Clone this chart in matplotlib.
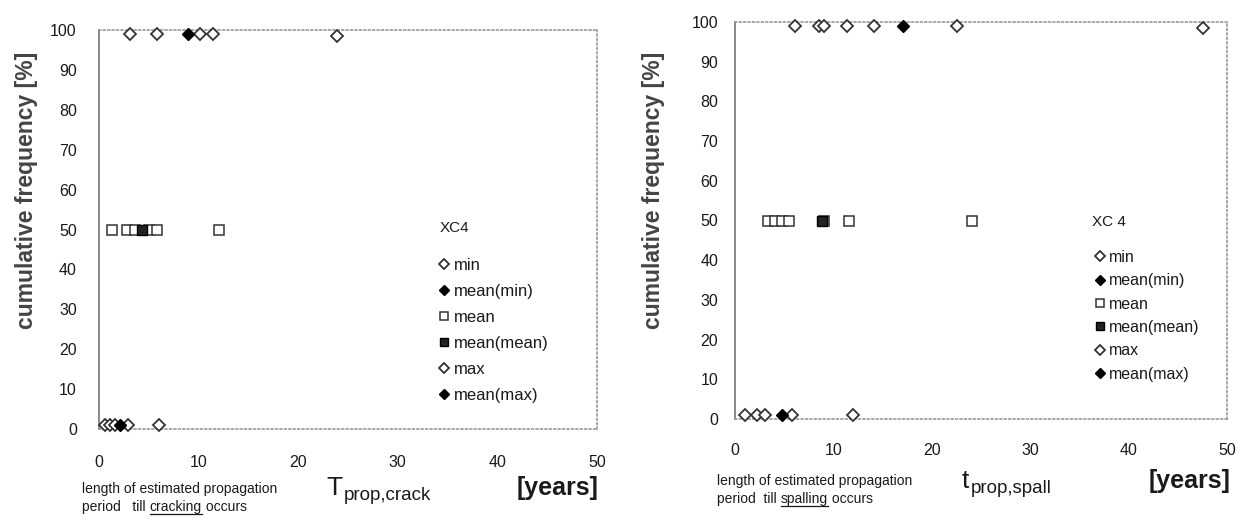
import matplotlib
matplotlib.use('Agg')
import matplotlib.pyplot as plt

plt.rcParams['font.family'] = ['Liberation Sans', 'DejaVu Sans']

# cracking (left panel) - years
CRACK_MIN = [0.6, 1.1, 1.6, 2.9, 6.0]
CRACK_MEAN_MIN = [2.1]
CRACK_MEAN = [1.3, 2.8, 3.6, 5.0, 5.8, 12.0]
CRACK_MEAN_MEAN = [4.3]
CRACK_MAX = [3.1, 5.8, 10.1, 11.4, 23.9]
CRACK_MAX_FREQ = [99, 99, 99, 99, 98.6]
CRACK_MEAN_MAX = [8.9]

# spalling (right panel) - years
SPALL_MIN = [1.0, 2.2, 3.0, 5.8, 12.0]
SPALL_MEAN_MIN = [4.8]
SPALL_MEAN = [3.4, 4.1, 4.8, 5.5, 9.0, 11.6, 24.1]
SPALL_MEAN_MEAN = [8.8]
SPALL_MAX = [6.1, 8.5, 9.0, 11.4, 14.1, 22.6, 47.6]
SPALL_MAX_FREQ = [99, 99, 99, 99, 99, 99, 98.4]
SPALL_MEAN_MAX = [17.1]

FREQ_MIN = 1
FREQ_MEAN = 50
FREQ_MAX = 99

X_TICKS = [0, 10, 20, 30, 40, 50]
Y_TICKS = [0, 10, 20, 30, 40, 50, 60, 70, 80, 90, 100]

W, H = 1255, 524
INK = '#1a1a1a'


def fx(px):
    return px / W


def fy(py):
    return 1 - py / H


def draw_panel(ax, mins, mean_min, means, mean_mean, maxs, max_freq, mean_max,
               ypad, xpad):
    kw = dict(linestyle='none', clip_on=False, zorder=3)
    ax.plot(mins, [FREQ_MIN] * len(mins), marker='D', ms=6.5, mfc='white',
            mec='#333333', mew=1.3, label='min', **kw)
    ax.plot(mean_min, [FREQ_MIN] * len(mean_min), marker='D', ms=6.5, mfc='black',
            mec='black', label='mean(min)', **kw)
    ax.plot(means, [FREQ_MEAN] * len(means), marker='s', ms=7.5, mfc='white',
            mec='#333333', mew=1.1, label='mean', **kw)
    ax.plot(mean_mean, [FREQ_MEAN] * len(mean_mean), marker='s', ms=7.5, mfc='#222222',
            mec='black', label='mean(mean)', **kw)
    ax.plot(maxs, max_freq, marker='D', ms=6.5, mfc='white',
            mec='#333333', mew=1.3, label='max', **kw)
    ax.plot(mean_max, [FREQ_MAX] * len(mean_max), marker='D', ms=6.5, mfc='black',
            mec='black', label='mean(max)', **kw)

    ax.set_xlim(0, 50)
    ax.set_ylim(0, 100)
    ax.set_xticks(X_TICKS)
    ax.set_yticks(Y_TICKS)
    ax.tick_params(length=0, labelsize=11.5, labelcolor=INK)
    ax.tick_params(axis='y', pad=ypad)
    ax.tick_params(axis='x', pad=xpad)
    for side in ['top', 'right', 'bottom']:
        ax.spines[side].set_color('#999999')
        ax.spines[side].set_linestyle(':')
        ax.spines[side].set_linewidth(1.2)
    ax.spines['left'].set_color('#777777')
    ax.spines['left'].set_linewidth(1.2)
    ax.set_ylabel('cumulative frequency [%]', fontsize=16.5, fontweight='bold',
                  color='#444444')


def underlined_note(fig, x, y, before, word, after):
    r = fig.canvas.get_renderer()
    t1 = fig.text(x, y, before, fontsize=10, color=INK, va='baseline')
    bb = t1.get_window_extent(r).transformed(fig.transFigure.inverted())
    t2 = fig.text(bb.x1, y, word, fontsize=10, color=INK, va='baseline')
    bb2 = t2.get_window_extent(r).transformed(fig.transFigure.inverted())
    fig.text(bb2.x1, y, after, fontsize=10, color=INK, va='baseline')
    ly = y - 3.0 / H
    fig.add_artist(plt.Line2D([bb2.x0, bb2.x1], [ly, ly], color=INK, lw=0.9,
                              transform=fig.transFigure))


def axis_title(fig, x_left, x_right, base, letter, sub):
    r = fig.canvas.get_renderer()
    t = fig.text(fx(x_left), fy(base), letter, fontsize=19, color=INK, va='baseline')
    bb = t.get_window_extent(r).transformed(fig.transFigure.inverted())
    fig.text(bb.x1 + 1.5 / W, fy(base + 5), sub, fontsize=13.5, color=INK,
             va='baseline')
    fig.text(fx(x_right), fy(base), '[years]', fontsize=18, fontweight='bold',
             color=INK, va='baseline', ha='right')


def main():
    fig = plt.figure(figsize=(W / 100, H / 100), dpi=100)
    ax1 = fig.add_axes([fx(99), fy(429), 498 / W, 399 / H])
    ax2 = fig.add_axes([fx(735), fy(419), 492 / W, 397 / H])

    draw_panel(ax1, CRACK_MIN, CRACK_MEAN_MIN, CRACK_MEAN, CRACK_MEAN_MEAN,
               CRACK_MAX, CRACK_MAX_FREQ, CRACK_MEAN_MAX, ypad=16, xpad=19)
    draw_panel(ax2, SPALL_MIN, SPALL_MEAN_MIN, SPALL_MEAN, SPALL_MEAN_MEAN,
               SPALL_MAX, SPALL_MAX_FREQ, SPALL_MEAN_MAX, ypad=12, xpad=17)
    ax1.yaxis.set_label_coords(-61 / 498, (429 - 190) / 399)
    ax2.yaxis.set_label_coords(-70 / 492, (419 - 190) / 397)

    fig.text(fx(440), fy(228), 'XC4', fontsize=11, va='center', color=INK)
    fig.text(fx(1092), fy(222), 'XC 4', fontsize=11, va='center', color=INK)

    leg_kw = dict(frameon=False, handlelength=0.7, handletextpad=0.25,
                  markerscale=0.75, borderpad=0, borderaxespad=0, labelcolor=INK)
    ax1.legend(loc='upper left', bbox_to_anchor=(fx(438), fy(258)),
               bbox_transform=fig.transFigure, labelspacing=0.66, fontsize=12, **leg_kw)
    ax2.legend(loc='upper left', bbox_to_anchor=(fx(1094), fy(250)),
               bbox_transform=fig.transFigure, labelspacing=0.52, fontsize=11.5, **leg_kw)

    axis_title(fig, 326, 599, 495, 'T', 'prop,crack')
    axis_title(fig, 962, 1231, 488, 't', 'prop,spall')

    fig.text(fx(82), fy(493), 'length of estimated propagation',
             fontsize=10, color=INK, va='baseline')
    underlined_note(fig, fx(82), fy(511), 'period   till ', 'cracking', ' occurs')
    fig.text(fx(717), fy(485), 'length of estimated propagation',
             fontsize=10, color=INK, va='baseline')
    underlined_note(fig, fx(717), fy(503), 'period  till ', 'spalling', ' occurs')

    fig.savefig('out.png', dpi=100)


if __name__ == "__main__":
    main()
